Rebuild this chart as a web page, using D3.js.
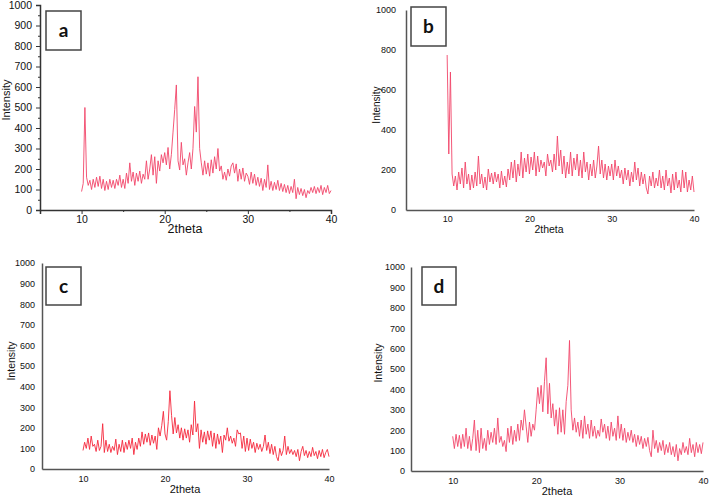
<!DOCTYPE html>
<html>
<head>
<meta charset="utf-8">
<script src="https://cdn.jsdelivr.net/npm/d3@7"></script>
<style>
  body { margin: 0; background: #fff; }
  svg { display: block; }
  text { font-family: "Liberation Sans", Arial, sans-serif; }
</style>
</head>
<body>
<svg id="chart" width="709" height="498"></svg>
<script>
// 2theta sampling grid, 10..40 every 0.2 degrees
var twoTheta = d3.range(151).map((i) => +(10 + i * 0.2).toFixed(1));

var intensityA = [
  90, 130, 500, 160, 120, 145, 100, 150, 110, 160,
  115, 165, 105, 150, 95, 140, 100, 150, 110, 145,
  105, 150, 120, 170, 110, 150, 105, 180, 130, 230,
  140, 185, 120, 180, 140, 190, 130, 175, 150, 240,
  150, 200, 270, 170, 260, 130, 240, 190, 270, 230,
  280, 220, 305, 200, 270, 380, 490, 610, 240, 195,
  330, 220, 250, 170, 230, 280, 200, 300, 505, 380,
  650, 300, 230, 170, 240, 175, 230, 165, 245, 180,
  260, 200, 300, 190, 215, 150, 185, 145, 200, 165,
  215, 230, 180, 225, 140, 200, 150, 205, 140, 180,
  165, 125, 185, 130, 175, 120, 160, 115, 155, 95,
  150, 110, 220, 100, 140, 95, 135, 100, 145, 95,
  130, 90, 125, 85, 120, 80, 115, 85, 150, 55,
  110, 75, 105, 70, 100, 60, 95, 80, 110, 85,
  115, 80, 110, 85, 120, 75, 110, 85, 120, 80,
  95
];

var intensityB = [
  775, 280, 690, 180, 120, 170, 100, 190, 130, 210,
  110, 240, 130, 180, 100, 175, 110, 190, 120, 270,
  130, 180, 110, 165, 100, 205, 140, 185, 130, 190,
  140, 180, 110, 195, 125, 170, 115, 205, 150, 240,
  160, 250, 140, 230, 170, 290, 160, 260, 190, 280,
  180, 265, 200, 290, 170, 270, 190, 250, 210, 240,
  170, 280, 220, 250, 190, 280, 200, 370, 220, 300,
  180, 270, 160, 240, 180, 290, 170, 260, 200, 280,
  170, 250, 160, 290, 190, 240, 150, 230, 170, 250,
  160, 220, 320, 180, 250, 160, 230, 150, 220, 170,
  230, 150, 250, 170, 220, 160, 200, 130, 210, 150,
  200, 120, 190, 140, 240, 150, 210, 120, 190, 130,
  180, 110, 80, 170, 120, 190, 110, 160, 120, 200,
  110, 170, 100, 200, 120, 160, 85, 180, 100, 190,
  110, 150, 90, 200, 110, 190, 90, 150, 100, 170,
  90
];

var intensityC = [
  90, 130, 100, 150, 95, 160, 110, 120, 85, 140,
  90, 110, 220, 80, 140, 85, 120, 80, 110, 90,
  145, 70, 120, 85, 140, 80, 130, 95, 140, 100,
  150, 70, 130, 95, 150, 110, 180, 120, 170, 130,
  175, 115, 165, 125, 160, 95, 200, 160, 210, 280,
  170, 140, 230, 380, 260, 170, 250, 175, 215, 150,
  200, 140, 195, 150, 190, 130, 215, 165, 330, 180,
  220, 100, 190, 130, 180, 120, 185, 140, 185, 110,
  175, 100, 170, 120, 160, 80, 165, 140, 200, 135,
  160, 125, 150, 110, 190, 170, 175, 100, 160, 85,
  150, 90, 145, 100, 130, 80, 125, 95, 120, 85,
  110, 165, 90, 130, 75, 120, 70, 110, 60, 40,
  100, 65, 90, 160, 70, 110, 75, 95, 70, 90,
  60, 95, 40, 85, 110, 65, 90, 55, 85, 60,
  105, 65, 85, 50, 90, 60, 95, 55, 80, 95,
  60
];

var intensityD = [
  170, 110, 180, 120, 175, 110, 180, 120, 210, 110,
  170, 100, 160, 250, 100, 200, 90, 210, 110, 160,
  100, 200, 130, 190, 140, 210, 130, 260, 140, 170,
  120, 150, 95, 210, 140, 220, 130, 200, 145, 230,
  150, 250, 200, 300, 220, 140, 240, 170, 230, 200,
  300, 410, 330, 420, 290, 440, 555, 280, 430, 260,
  330, 220, 300, 180, 310, 190, 300, 180, 340, 420,
  640, 300, 200, 260, 190, 240, 170, 250, 160, 270,
  180, 230, 160, 250, 170, 220, 160, 200, 170, 255,
  190, 230, 160, 220, 150, 240, 170, 210, 150, 270,
  160, 230, 150, 210, 140, 190, 150, 200, 140, 180,
  120, 175, 130, 170, 110, 160, 120, 165, 100, 70,
  200, 110, 150, 90, 140, 100, 150, 80, 130, 90,
  140, 80, 120, 70, 130, 50, 110, 80, 140, 90,
  120, 80, 160, 90, 130, 70, 140, 90, 130, 85,
  140
];

var xTicks = [10, 20, 30, 40];
var yTicksFine = d3.range(0, 1001, 100);
var yTicksCoarse = d3.range(0, 1001, 200);
var panelLetters = ["a", "b", "c", "d"];

var panels = [
  { letter: panelLetters[0], values: intensityA, yTicks: yTicksFine, minor: true,
    left: 40, right: 331, top: 5, bottom: 210, color: "#f2466a",
    tickFont: 10.5, yPad: 4, xPad: 2, labelFont: 11, titleFont: 12.5,
    yLabel: [6, 100], xLabel: [185, 233], box: [46, 11, 35, 39], axisColor: "#333" },
  { letter: panelLetters[1], values: intensityB, yTicks: yTicksCoarse, minor: false,
    left: 406, right: 694, top: 10, bottom: 210, color: "#f2466a",
    tickFont: 9, yPad: 10, xPad: 6, labelFont: 10, titleFont: 10.5,
    yLabel: [376, 105], xLabel: [549, 233], box: [411, 7, 35, 39], axisColor: "#555" },
  { letter: panelLetters[2], values: intensityC, yTicks: yTicksFine, minor: false,
    left: 42, right: 329, top: 263, bottom: 469, color: "#f5283c",
    tickFont: 9, yPad: 7, xPad: 7, labelFont: 10.5, titleFont: 11,
    yLabel: [11, 361], xLabel: [185, 493], box: [46, 267, 35, 38], axisColor: "#555" },
  { letter: panelLetters[3], values: intensityD, yTicks: yTicksFine, minor: false,
    left: 411, right: 703, top: 267, bottom: 471, color: "#f2466a",
    tickFont: 9, yPad: 6, xPad: 7, labelFont: 10.5, titleFont: 11,
    yLabel: [378, 363], xLabel: [557, 495], box: [422, 267, 34, 38], axisColor: "#555" }
];

var svg = d3.select("#chart");

var drawPanel = (p) => {
  var x = d3.scaleLinear().domain([5, 40]).range([p.left, p.right]);
  var y = d3.scaleLinear().domain([0, 1000]).range([p.bottom, p.top]);
  var g = svg.append("g");

  // data trace
  g.append("path")
    .datum(p.values)
    .attr("fill", "none")
    .attr("stroke", p.color)
    .attr("stroke-width", 0.9)
    .attr("stroke-linejoin", "round")
    .attr("d", d3.line().x((d, i) => x(twoTheta[i])).y((d) => y(d)));

  var yAxis = g.append("g")
    .attr("transform", "translate(" + p.left + ",0)")
    .call(d3.axisLeft(y).tickValues(p.yTicks).tickSize(p.minor ? 4 : 0)
      .tickPadding(p.yPad).tickFormat(d3.format("d")));

  var xAxis = g.append("g")
    .attr("transform", "translate(0," + p.bottom + ")")
    .call(d3.axisBottom(x).tickValues(xTicks).tickSize(p.minor ? 4 : 0)
      .tickPadding(p.xPad));

  if (p.minor) {
    g.append("g")
      .attr("transform", "translate(" + p.left + ",0)")
      .call(d3.axisLeft(y).tickValues(d3.range(50, 1000, 100)).tickSize(2).tickFormat(""))
      .call((s) => s.select(".domain").remove());
    g.append("g")
      .attr("transform", "translate(0," + p.bottom + ")")
      .call(d3.axisBottom(x).tickValues([5, 15, 25, 35]).tickSize(2).tickFormat(""))
      .call((s) => s.select(".domain").remove());
  }

  [yAxis, xAxis].forEach((ax) => {
    ax.select(".domain").attr("stroke", p.axisColor).attr("stroke-width", 1.5);
    ax.selectAll("text").attr("fill", "#111").style("font-size", p.tickFont + "px")
      .style("font-family", "'Liberation Sans', Arial, sans-serif");
  });
  g.selectAll(".tick line").attr("stroke", p.axisColor);

  g.append("text")
    .attr("transform", "translate(" + p.yLabel[0] + "," + p.yLabel[1] + ") rotate(-90)")
    .attr("text-anchor", "middle")
    .attr("dy", "0.35em")
    .style("font-size", p.labelFont + "px")
    .attr("fill", "#111")
    .text("Intensity");

  g.append("text")
    .attr("x", p.xLabel[0])
    .attr("y", p.xLabel[1])
    .attr("text-anchor", "middle")
    .style("font-size", p.titleFont + "px")
    .attr("fill", "#111")
    .text("2theta");

  // panel letter box
  g.append("rect")
    .attr("x", p.box[0])
    .attr("y", p.box[1])
    .attr("width", p.box[2])
    .attr("height", p.box[3])
    .attr("fill", "#fff")
    .attr("stroke", "#444")
    .attr("stroke-width", 1.5);

  g.append("text")
    .attr("x", p.box[0] + p.box[2] / 2)
    .attr("y", p.box[1] + p.box[3] / 2)
    .attr("text-anchor", "middle")
    .attr("dy", "0.35em")
    .style("font-family", "Lato, 'Liberation Sans', sans-serif")
    .style("font-weight", "bold")
    .style("font-size", "19px")
    .attr("fill", "#111")
    .text(p.letter);
};

panels.forEach(drawPanel);
</script>
</body>
</html>
